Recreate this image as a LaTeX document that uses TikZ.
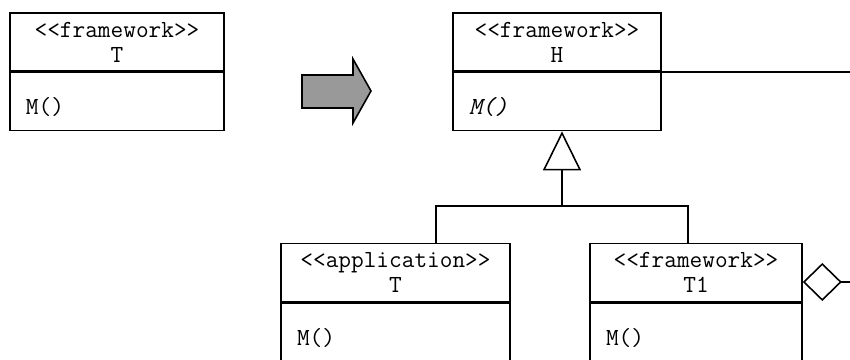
\documentclass[tikz,border=0pt]{standalone}
\usepackage{fontspec}
\usetikzlibrary{positioning,arrows.meta}
\definecolor{arrowgray}{gray}{0.6}

\begin{document}
\begin{tikzpicture}[
    line width=0.9pt,
    font=\ttfamily\fontsize{14}{14.2}\selectfont,
    classhead/.style={draw, minimum width=#1, minimum height=1.16cm, inner ysep=0pt, align=center},
    classbody/.style={draw, minimum width=#1, text width=#1-0.64cm, inner xsep=0.32cm, inner ysep=0pt,
      align=left, minimum height=1.16cm, text height=0.56cm, text depth=0.04cm},
    cutbody/.style={classbody=#1, minimum height=1.4cm, text depth=0.28cm},
    inherit/.style={-{Triangle[open, length=0.78cm, width=0.76cm, fill=white]}},
    aggregate/.style={{Diamond[open, length=0.78cm, width=0.76cm, fill=white]}-}
  ]

  \useasboundingbox (0,0) rectangle (17,7.2);

  \node[classhead=4.28cm] (Thead) at (2.34,6.36) {<<framework>>\\T};
  \node[classbody=4.28cm, below=0pt of Thead] (Tbody) {M()};

  \draw[fill=arrowgray] (6.04,5.7) -- (7.06,5.7) -- (7.06,6.02) -- (7.42,5.38)
    -- (7.06,4.74) -- (7.06,5.04) -- (6.04,5.04) -- cycle;

  \node[classhead=4.16cm] (Hhead) at (11.14,6.36) {<<framework>>\\H};
  \node[classbody=4.16cm, below=0pt of Hhead] (Hbody) {\textit{M()}};

  \node[classhead=4.58cm] (appT) at (7.91,1.75) {<<application>>\\T};
  \node[cutbody=4.58cm, below=0pt of appT] (appTbody) {M()};

  \node[classhead=4.24cm] (T1) at (13.92,1.75) {<<framework>>\\T1};
  \node[cutbody=4.24cm, below=0pt of T1] (T1body) {M()};

  \coordinate (fork) at (11.24,3.08);
  \coordinate (edge) at (17,0);

  \draw[inherit] (fork) -- (fork |- Hbody.south);
  \draw (fork) -| ([xshift=0.81cm]appT.north);
  \draw (fork) -| ([xshift=-0.16cm]T1.north);

  \draw (Hhead.south east) -- (Hhead.south east -| edge);
  \draw[aggregate] ([yshift=-0.19cm]T1.east) -- ([yshift=-0.19cm]T1.east -| edge);

\end{tikzpicture}
\end{document}
